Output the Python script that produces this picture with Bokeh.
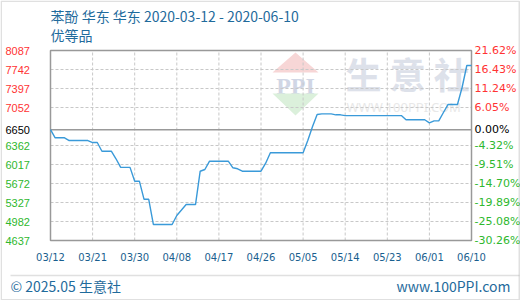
import pandas as pd
from bokeh.plotting import figure
from bokeh.models import Range1d, Label, PolyAnnotation
from bokeh.core.properties import value
from bokeh.embed import file_html
from bokeh.resources import INLINE

# 苯酚 华东 优等品, daily quotes (元/吨)
start_date = "2020-03-12"
end_date = "2020-06-10"
prices = [
    6650,
    6502, 6502, 6502,
    6452, 6452, 6452, 6452, 6452,
    6416, 6416,
    6258, 6258, 6258,
    6121,
    5965, 5965, 5965,
    5714, 5714,
    5385, 5385,
    4927, 4927, 4927, 4927, 4927,
    5091,
    5190,
    5290, 5290, 5290,
    5895,
    5926,
    6077, 6077, 6077, 6077, 6077,
    5957,
    5939,
    5895, 5895, 5895, 5895, 5895,
    6041,
    6229, 6229, 6229, 6229, 6229, 6229, 6229, 6229,
    6453,
    6702,
    6925,
    6937, 6937, 6937,
    6919, 6919,
    6905, 6905, 6905, 6905, 6905, 6905, 6905, 6905, 6905, 6905, 6905, 6905, 6905,
    6829, 6829, 6829, 6829, 6829,
    6774,
    6810, 6810,
    6961,
    7107, 7107, 7107,
    7420,
    7815, 7815,
]

base_price = 6650
price_ticks = [4637, 4982, 5327, 5672, 6017, 6362, 6650, 7052, 7397, 7742, 8087]
pct_labels = ["-30.26%", "-25.08%", "-19.89%", "-14.70%", "-9.51%", "-4.32%",
              "0.00%", "6.05%", "11.24%", "16.43%", "21.62%"]
date_ticks = ["2020-03-12", "2020-03-21", "2020-03-30", "2020-04-08", "2020-04-17",
              "2020-04-26", "2020-05-05", "2020-05-14", "2020-05-23", "2020-06-01",
              "2020-06-10"]

title_text = "苯酚 华东 华东 2020-03-12 - 2020-06-10"
subtitle_text = "优等品"
footer_left = "© 2025.05 生意社"
footer_right = "www.100PPI.com"

RED, GREEN, BLACK = "#ff3333", "#2eb82e", "#000000"
BLUE_TEXT = "#1f6b9c"
TICK_BLUE = "#1a5f8f"
LINE_BLUE = "#3a9ad9"
GRID = "#c8c8c8"
FRAME = "#999999"

# canvas geometry: the price panel sits inside a 520x300 card
W, H = 520, 300
PANEL_L, PANEL_R, PANEL_T, PANEL_B = 50, 471, 50, 240

dates = pd.date_range(start_date, end_date, freq="D")
t0, t1 = pd.Timestamp(start_date), pd.Timestamp(end_date)
tick_dates = pd.to_datetime(date_ticks)
y_lo, y_hi = price_ticks[0], price_ticks[-1]

# extend both ranges so the whole card is drawing area and the panel lands in place
x_per_px = (t1 - t0) / (PANEL_R - PANEL_L)
y_per_px = (y_hi - y_lo) / (PANEL_B - PANEL_T)
x_range = Range1d(t0 - x_per_px * PANEL_L, t1 + x_per_px * (W - PANEL_R))
y_range = Range1d(y_lo - y_per_px * (H - PANEL_B), y_hi + y_per_px * PANEL_T)

p = figure(width=W, height=H, output_backend="svg", toolbar_location=None,
           x_axis_type="datetime", x_axis_location=None, y_axis_location=None,
           x_range=x_range, y_range=y_range, min_border=0)
p.background_fill_color = "white"
p.border_fill_color = "white"
p.outline_line_color = None
p.xgrid.visible = False
p.ygrid.visible = False

# watermark, behind everything
for txt, x, y, size, color, font, style, align in [
    ("生 意 社", 345, 228, "36px", "#dde1ea", "Noto Sans CJK SC", "bold", "left"),
    ("WWW.100PPI.COM", 346, 194, "13px", "#e8e8e8", "Noto Sans", "normal", "left"),
    ("PPI", 295, 215, "24px", "#d0d6e5", "Liberation Serif", "bold", "center"),
]:
    p.add_layout(Label(x=x, y=y, x_units="screen", y_units="screen", text=txt,
                       text_font_size=size, text_color=color, text_font=font,
                       text_font_style=style, text_baseline="middle",
                       text_align=align, level="underlay"))
p.add_layout(PolyAnnotation(xs=[272, 318, 295], ys=[228, 228, 248],
                            xs_units="screen", ys_units="screen", level="underlay",
                            fill_color="#f7d6d6", fill_alpha=1, line_color=None))
p.add_layout(PolyAnnotation(xs=[272, 318, 295], ys=[207, 207, 185],
                            xs_units="screen", ys_units="screen", level="underlay",
                            fill_color="#dbf0db", fill_alpha=1, line_color=None))

# dashed grid at every price tick and date tick
grid_prices = [v for v in price_ticks if v != base_price]
p.segment(x0=[t0] * len(grid_prices), x1=[t1] * len(grid_prices),
          y0=grid_prices, y1=grid_prices,
          line_color=GRID, line_width=1, line_dash="3 2")
p.segment(x0=tick_dates, x1=tick_dates, y0=[y_lo] * len(tick_dates),
          y1=[y_hi] * len(tick_dates), line_color=GRID, line_width=1, line_dash="3 2")

# base price line and panel frame
p.segment(x0=[t0], x1=[t1], y0=[base_price], y1=[base_price],
          line_color=FRAME, line_width=1.5)
p.quad(left=[t0], right=[t1], bottom=[y_lo], top=[y_hi], fill_color=None,
       line_color=FRAME, line_width=1.5)

p.line(dates, prices, line_color=LINE_BLUE, line_width=1.4)

# price labels (left) and change labels (right)
colors = [GREEN if v < base_price else (BLACK if v == base_price else RED)
          for v in price_ticks]
p.text(x=[t0] * len(price_ticks), y=price_ticks, text=[str(v) for v in price_ticks],
       text_color=colors, x_offset=-45, text_font=value("Liberation Sans"),
       text_font_size="11px", text_baseline="middle", text_align="left")
p.text(x=[t1] * len(price_ticks), y=price_ticks, text=pct_labels,
       text_color=colors, x_offset=3, text_font=value("DejaVu Sans"),
       text_font_size="11px", text_baseline="middle", text_align="left")

# date labels under the panel
p.text(x=tick_dates, y=[y_lo] * len(tick_dates),
       text=[d.strftime("%m/%d") for d in tick_dates], y_offset=17,
       text_color=TICK_BLUE, text_font=value("DejaVu Sans"), text_font_size="10px",
       text_baseline="middle", text_align="center")

# header and footer
for txt, x, y, align in [(title_text, 50, 284.5, "left"), (subtitle_text, 50, 266, "left"),
                         (footer_left, 10, 15, "left"), (footer_right, 510, 15, "right")]:
    p.add_layout(Label(x=x, y=y, x_units="screen", y_units="screen", text=txt,
                       text_font="Noto Sans CJK SC", text_font_size="14px",
                       text_color=BLUE_TEXT, text_baseline="middle", text_align=align))

p.add_layout(PolyAnnotation(xs=[10, 519], ys=[25, 25], xs_units="screen",
                            ys_units="screen", line_color=FRAME, line_width=1.5,
                            fill_color=None))
p.add_layout(PolyAnnotation(xs=[0.75, 518.75, 518.75, 0.75],
                            ys=[0.75, 0.75, 299.25, 299.25],
                            xs_units="screen", ys_units="screen",
                            line_color=FRAME, line_width=1.5, fill_color=None))

open("out.html", "w").write(file_html(p, INLINE))
